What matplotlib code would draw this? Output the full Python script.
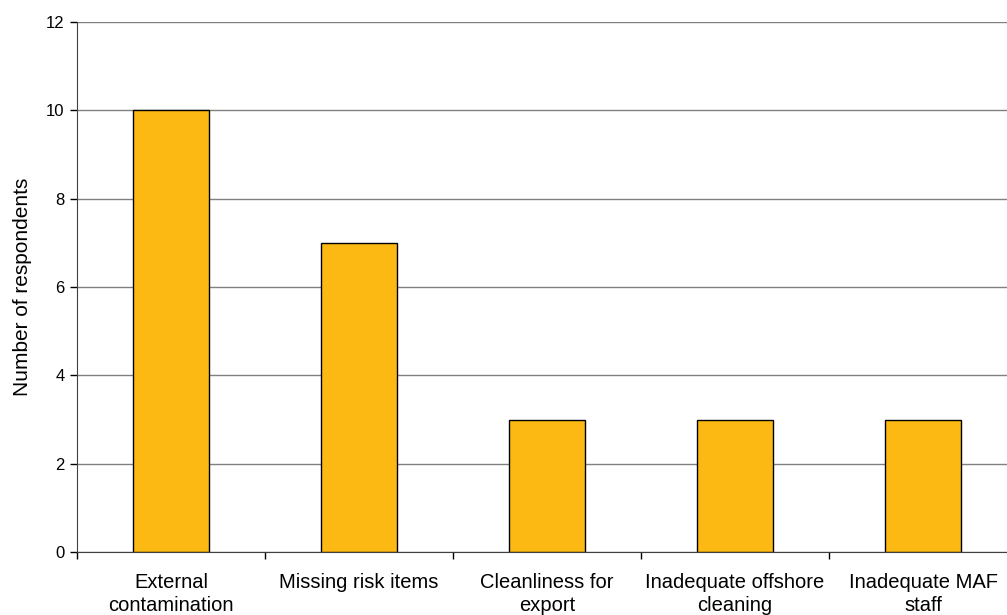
import matplotlib.pyplot as plt
import numpy as np

plt.rcParams['font.family'] = ['Liberation Sans', 'DejaVu Sans']

categories = ["External\ncontamination", "Missing risk items", "Cleanliness for\nexport",
              "Inadequate offshore\ncleaning", "Inadequate MAF\nstaff"]
respondents = [10, 7, 3, 3, 3]

fig = plt.figure(figsize=(10.07, 6.15), dpi=100)
# axes run past the right edge of the figure
ax = fig.add_axes([77 / 1007, 63 / 615, 940 / 1007, 530 / 615])

x = np.arange(len(categories))
ax.bar(x, respondents, width=0.4, color="#FDB913", edgecolor="black", linewidth=1.0, zorder=3)

ax.set_xlim(-0.5, len(categories) - 0.5)
ax.set_ylim(0, 12)
ax.set_yticks(range(0, 13, 2))
ax.yaxis.grid(True, color="#808080", linewidth=1.0, zorder=0)

ax.set_xticks(x)
ax.set_xticklabels(categories, fontsize=14.5, linespacing=1.3)
ax.tick_params(axis="x", which="major", length=0, pad=15)
ax.set_xticks(np.arange(-0.5, len(categories)), minor=True)
ax.tick_params(axis="x", which="minor", length=5, width=1, direction="out")
ax.tick_params(axis="y", labelsize=12, length=5, width=1, direction="out", pad=4)

for side in ["top", "right"]:
    ax.spines[side].set_visible(False)
ax.spines["left"].set_color("#404040")
ax.spines["bottom"].set_color("#404040")

ax.set_ylabel("Number of respondents", fontsize=15, labelpad=10)

fig.savefig("out.png", dpi=100)
